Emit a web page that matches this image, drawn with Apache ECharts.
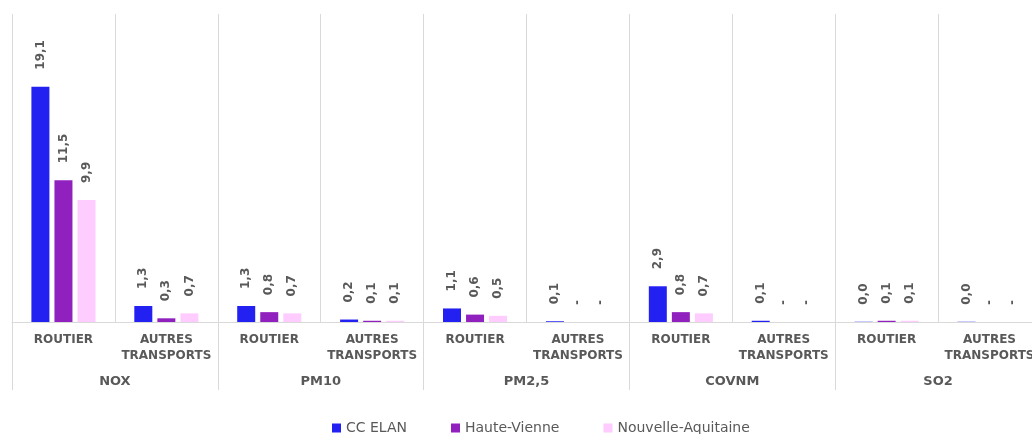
<!DOCTYPE html>
<html>
<head>
<meta charset="utf-8">
<script src="https://cdn.jsdelivr.net/npm/echarts@6/dist/echarts.min.js"></script>
<style>html,body{margin:0;padding:0;background:#fff}#c{width:1032px;height:434px}</style>
</head>
<body>
<div id="c"></div>
<script>
var categories = ['ROUTIER', 'AUTRES\nTRANSPORTS', 'ROUTIER', 'AUTRES\nTRANSPORTS', 'ROUTIER', 'AUTRES\nTRANSPORTS', 'ROUTIER', 'AUTRES\nTRANSPORTS', 'ROUTIER', 'AUTRES\nTRANSPORTS'];
var groups = ['NOX', 'PM10', 'PM2,5', 'COVNM', 'SO2'];
var seriesNames = ['CC ELAN', 'Haute-Vienne', 'Nouvelle-Aquitaine'];
var ccElan = [19.1, 1.3, 1.3, 0.2, 1.1, 0.06, 2.9, 0.1, 0.02, 0.02];
var hauteVienne = [11.5, 0.3, 0.8, 0.1, 0.6, 0, 0.8, 0, 0.1, 0];
var nouvelleAquitaine = [9.9, 0.7, 0.7, 0.1, 0.5, 0, 0.7, 0, 0.1, 0];

var colors = ['#2321F2', '#9021BF', '#FFCCFF'];
var textColor = '#595959';
var fontFam = '"DejaVu Sans", sans-serif';

function fmt(p) {
  var v = p.value;
  if (v === 0) return '-';
  return v.toFixed(1).replace('.', ',');
}

function mkSeries(name, data, i) {
  return {
    name: name,
    type: 'bar',
    data: data,
    barWidth: 18,
    barGap: '28%',
    itemStyle: { color: colors[i] },
    label: {
      show: true,
      position: 'top',
      distance: 17,
      rotate: 90,
      align: 'left',
      verticalAlign: 'middle',
      formatter: fmt,
      color: textColor,
      fontFamily: fontFam,
      fontWeight: 'bold',
      fontSize: 12
    }
  };
}

var chart = echarts.init(document.getElementById('c'));
chart.setOption({
  animation: false,
  grid: { left: 12, width: 1029, top: 14, bottom: 112, containLabel: false, outerBoundsMode: 'none' },
  legend: {
    data: seriesNames,
    left: 327,
    top: 416,
    itemWidth: 9,
    itemHeight: 9,
    itemGap: 44,
    icon: 'rect',
    textStyle: { color: textColor, fontFamily: fontFam, fontSize: 14 }
  },
  xAxis: [
    {
      type: 'category',
      data: categories,
      axisLine: { show: true, lineStyle: { color: '#d9d9d9', width: 1 } },
      axisTick: { show: false },
      splitLine: { show: true, interval: 0, lineStyle: { color: '#d9d9d9', width: 1 } },
      axisLabel: {
        interval: 0,
        margin: 10,
        color: textColor,
        fontFamily: fontFam,
        fontWeight: 'bold',
        fontSize: 12,
        lineHeight: 16
      }
    },
    {
      type: 'category',
      data: groups,
      position: 'bottom',
      offset: 0,
      axisLine: { show: false },
      axisTick: { show: true, interval: 0, length: 68, lineStyle: { color: '#d9d9d9', width: 1 } },
      splitLine: { show: false },
      axisLabel: {
        interval: 0,
        margin: 53,
        color: textColor,
        fontFamily: fontFam,
        fontWeight: 'bold',
        fontSize: 13
      }
    }
  ],
  yAxis: {
    type: 'value',
    min: 0,
    max: 25,
    show: false,
    splitLine: { show: false }
  },
  series: [
    mkSeries(seriesNames[0], ccElan, 0),
    mkSeries(seriesNames[1], hauteVienne, 1),
    mkSeries(seriesNames[2], nouvelleAquitaine, 2)
  ]
});
</script>
</body>
</html>
